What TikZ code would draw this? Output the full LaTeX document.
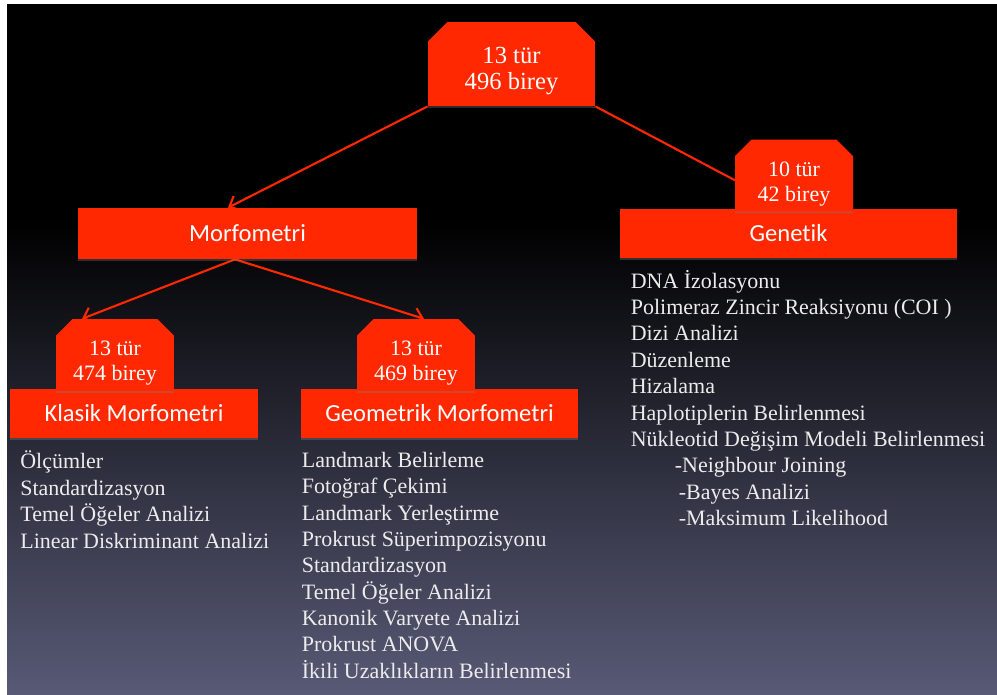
\documentclass[tikz,border=0pt]{standalone}
\usepackage{fontspec}
\setmainfont{Liberation Serif}
\newfontfamily\headfont[Ligatures={NoCommon,NoContextual}]{Carlito}
\usetikzlibrary{shapes.misc,shadows,arrows.meta}

\definecolor{slidered}{RGB}{255,40,0}
\definecolor{slidebot}{RGB}{88,90,118}
\definecolor{listgray}{RGB}{236,236,236}

\pgfdeclarelayer{bg}
\pgfdeclarelayer{edges}
\pgfsetlayers{bg,edges,main}

\tikzset{
  redbox/.style={fill=slidered, text=white, inner sep=0pt,
    drop shadow={shadow xshift=0pt, shadow yshift=-0.04cm, opacity=0.35}},
  headbox/.style={redbox, font=\headfont\fontsize{14}{16}\selectfont,
    minimum height=0.98cm},
  countbox/.style={redbox, chamfered rectangle,
    chamfered rectangle corners={north west,north east},
    chamfered rectangle xsep=0.22cm, align=center,
    minimum width=2.36cm, minimum height=1.36cm,
    font=\fontsize{12.5}{14.2}\selectfont,
    execute at begin node={\rule{0pt}{32pt}}},
  topbox/.style={redbox, chamfered rectangle,
    chamfered rectangle corners={north west,north east},
    chamfered rectangle xsep=0.28cm, align=center,
    minimum width=3.34cm, minimum height=1.68cm,
    font=\fontsize{14}{14.8}\selectfont,
    execute at begin node={\rule{0pt}{32pt}}},
  itemlist/.style={anchor=north west, align=left, inner sep=0pt,
    text=listgray, font=\fontsize{12.5}{15}\selectfont},
  link/.style={draw=slidered, line width=1.2pt, -{Straight Barb[length=5pt,width=9pt]}}
}

\begin{document}
\begin{tikzpicture}[x=0.02cm, y=-0.02cm]
  \useasboundingbox (0,0) rectangle (997,694);

  % Fundo
  \begin{pgfonlayer}{bg}
    \fill[black] (7,4) rectangle (997,220);
    \shade[top color=black, bottom color=slidebot] (7,219) rectangle (997,694);
  \end{pgfonlayer}

  % Caixas principais
  \node[headbox, minimum width=6.78cm, minimum height=1.02cm] (morf) at (247.5,233.5) {Morfometri};
  \node[headbox, minimum width=6.74cm] (gen) at (788.5,233.5) {Genetik};
  \node[headbox, minimum width=4.96cm] (klas) at (134,413.5) {Klasik Morfometri};
  \node[headbox, minimum width=5.54cm] (geom) at (439.5,413.5) {Geometrik Morfometri};

  % Numero de especies e individuos
  \node[topbox] (top) at (511.5,64) {13 tür\\496 birey};
  \node[countbox] (genn) at (794,175.5) {10 tür\\42 birey};
  \node[countbox] (klasn) at (115,355) {13 tür\\474 birey};
  \node[countbox] (geomn) at (416,355) {13 tür\\469 birey};

  % Setas
  \begin{pgfonlayer}{edges}
    \draw[link] (top.south west) -- ([xshift=-0.39cm]morf.north);
    \draw[link] (top.south east) -- (gen.north);
    \draw[link] ([xshift=-0.25cm]morf.south) -- ([xshift=-0.66cm]klasn.north);
    \draw[link] ([xshift=-0.25cm]morf.south) -- ([xshift=0.16cm]geomn.north);
  \end{pgfonlayer}

  % Listas
  \node[itemlist] (klaslist) at (20,450.8) {Ölçümler\\Standardizasyon\\Temel Öğeler Analizi\\Linear Diskriminant Analizi};
  \node[itemlist] (geomlist) at (301.5,451.8) {Landmark Belirleme\\Fotoğraf Çekimi\\Landmark Yerleştirme\\Prokrust Süperimpozisyonu\\Standardizasyon\\Temel Öğeler Analizi\\Kanonik Varyete Analizi\\Prokrust ANOVA\\İkili Uzaklıkların Belirlenmesi};
  \node[itemlist] (genlist) at (630.5,269.8) {DNA İzolasyonu\\Polimeraz Zincir Reaksiyonu (COI )\\Dizi Analizi\\Düzenleme\\Hizalama\\Haplotiplerin Belirlenmesi\\Nükleotid Değişim Modeli Belirlenmesi\\\hspace*{0.88cm}-Neighbour Joining\\\hspace*{0.96cm}-Bayes Analizi\\\hspace*{0.96cm}-Maksimum Likelihood};

\end{tikzpicture}
\end{document}
